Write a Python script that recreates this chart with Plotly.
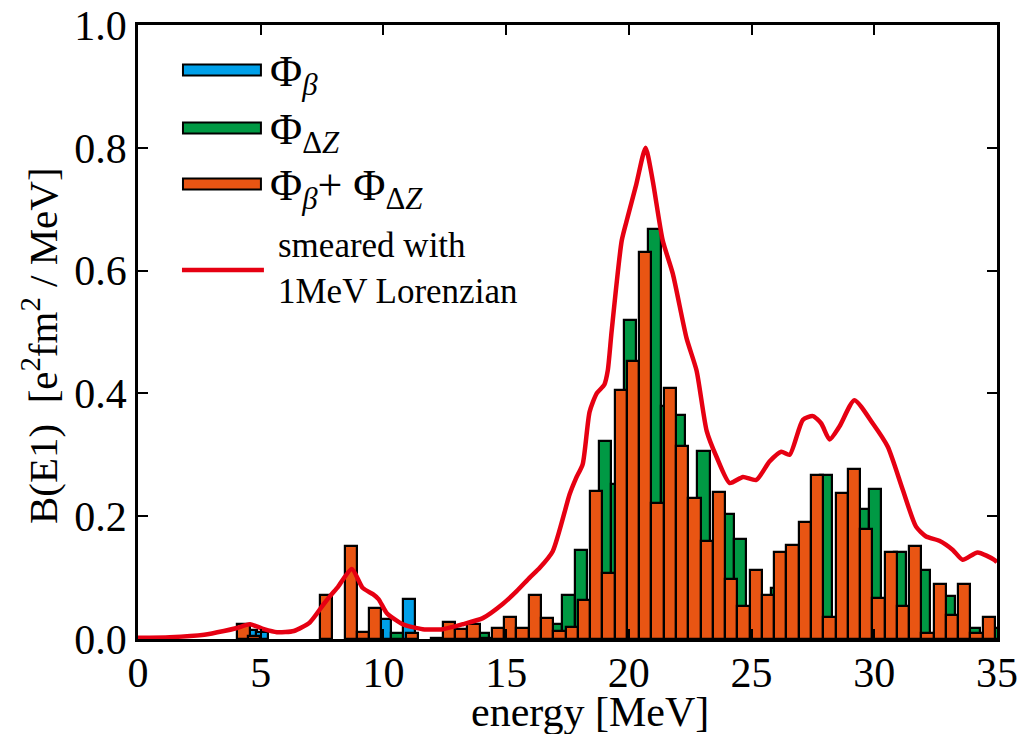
import plotly.graph_objects as go

# ---------------- data ----------------
# Phi_beta (blue)
beta_E = [4.60, 5.04, 10.04, 11.04]
beta_B = [0.015, 0.011, 0.033, 0.065]

# Phi_DeltaZ (green)
dz_E = [10.54, 14.04, 17.04, 17.54, 18.04, 19.04, 19.54, 20.04, 21.04, 21.54,
        22.04, 23.04, 24.04, 24.54, 26.04, 28.04, 29.54, 30.04, 31.04, 32.04,
        33.04, 34.04, 35.04]
dz_B = [0.009, 0.010, 0.025, 0.072, 0.145, 0.323, 0.253, 0.520, 0.667, 0.380,
        0.365, 0.306, 0.204, 0.163, 0.083, 0.267, 0.212, 0.245, 0.141, 0.112,
        0.070, 0.018, 0.018]

# Phi_beta + Phi_DeltaZ (orange)
tot_E = [4.30, 4.72, 7.67, 8.67, 9.17, 9.67, 11.17, 12.17, 12.67, 13.17,
         13.67, 14.17, 14.67, 15.17, 15.67, 16.17, 16.67, 17.17, 17.67, 18.17,
         18.67, 19.17, 19.67, 20.17, 20.67, 21.17, 21.67, 22.17, 22.67, 23.17,
         23.67, 24.17, 24.67, 25.17, 25.67, 26.17, 26.67, 27.17, 27.67, 28.17,
         28.67, 29.17, 29.67, 30.17, 30.67, 31.17, 31.67, 32.17, 32.67, 33.17,
         33.67, 34.17, 34.67]
tot_B = [0.025, 0.005, 0.072, 0.152, 0.011, 0.051, 0.010, 0.002, 0.027, 0.016,
         0.025, 0.002, 0.018, 0.036, 0.018, 0.072, 0.035, 0.013, 0.020, 0.064,
         0.241, 0.107, 0.405, 0.452, 0.630, 0.221, 0.409, 0.315, 0.230, 0.159,
         0.239, 0.097, 0.054, 0.113, 0.072, 0.141, 0.153, 0.191, 0.267, 0.036,
         0.238, 0.277, 0.179, 0.066, 0.142, 0.054, 0.152, 0.009, 0.089, 0.039,
         0.089, 0.010, 0.036]

# smeared curve (1 MeV Lorentzian)
sm_E = [0, 1.3, 2.7, 3.5, 4.03, 4.56, 5.13, 5.66, 6.35, 7.0, 7.57, 7.85, 8.15,
        8.71, 9.16, 9.57, 9.8, 10.14, 10.79, 11.6, 12.42, 13.23, 14.05, 14.86,
        15.43, 15.96, 16.37, 16.9, 17.59, 17.85, 18.12, 18.4, 18.69, 19.0,
        19.14, 19.3, 19.71, 19.95, 20.3, 20.68, 20.97, 21.38, 21.79, 22.35,
        22.76, 23.17, 23.58, 24.11, 24.65, 25.19, 25.73, 26.21, 26.55, 27.09,
        27.5, 27.84, 28.18, 28.58, 29.19, 29.94, 30.55, 31.16, 31.7, 32.11,
        32.65, 33.2, 33.6, 34.21, 34.89, 35.0]
sm_B = [0.002, 0.003, 0.007, 0.013, 0.018, 0.024, 0.016, 0.011, 0.013, 0.027,
        0.057, 0.071, 0.085, 0.114, 0.083, 0.073, 0.065, 0.042, 0.024, 0.016,
        0.016, 0.024, 0.034, 0.057, 0.078, 0.100, 0.116, 0.143, 0.236, 0.262,
        0.285, 0.370, 0.400, 0.414, 0.437, 0.502, 0.649, 0.687, 0.740, 0.800,
        0.747, 0.649, 0.595, 0.490, 0.437, 0.339, 0.296, 0.254, 0.264, 0.259,
        0.289, 0.305, 0.300, 0.357, 0.363, 0.351, 0.325, 0.346, 0.389, 0.351,
        0.313, 0.243, 0.183, 0.167, 0.160, 0.145, 0.129, 0.141, 0.129, 0.125]

x_ticks = [0, 5, 10, 15, 20, 25, 30, 35]
y_ticks = [0.0, 0.2, 0.4, 0.6, 0.8, 1.0]

# ---------------- styling ----------------
BLUE = "#00a0e9"
GREEN = "#009944"
ORANGE = "#e95513"
RED = "#e60012"
FONT = "Liberation Serif"

W, H = 1027, 734
L, R, T, B = 138, 29.5, 25, 95
PW, PH = W - L - R, H - T - B


def px(x):
    """figure pixel x -> paper coordinate"""
    return (x - L) / PW


def py(y):
    """figure pixel y -> paper coordinate"""
    return (H - B - y) / PH


fig = go.Figure()
bar_line = dict(color="black", width=2.2)
fig.add_trace(go.Bar(x=beta_E, y=beta_B, width=0.5, marker=dict(color=BLUE, line=bar_line),
                     showlegend=False, cliponaxis=False))
fig.add_trace(go.Bar(x=dz_E, y=dz_B, width=0.5, marker=dict(color=GREEN, line=bar_line),
                     showlegend=False, cliponaxis=False))
fig.add_trace(go.Bar(x=tot_E, y=tot_B, width=0.5, marker=dict(color=ORANGE, line=bar_line),
                     showlegend=False, cliponaxis=False))
fig.add_trace(go.Scatter(x=sm_E, y=sm_B, mode="lines",
                         line=dict(color=RED, width=4.5, shape="spline", smoothing=0.6),
                         showlegend=False))

axis_common = dict(showline=True, linecolor="black", linewidth=2.5, mirror="ticks",
                   ticks="inside", ticklen=10, tickwidth=2, tickcolor="black",
                   showgrid=False, zeroline=False, automargin=False,
                   tickfont=dict(family=FONT, size=42, color="black"))
fig.update_xaxes(range=[0, 35], tickvals=x_ticks, ticklabelstandoff=-5, **axis_common)
fig.update_yaxes(range=[0, 1.0], tickvals=y_ticks, tickformat=".1f", **axis_common)

# custom legend
shapes = []
annotations = []
legend_rows = [(BLUE, 70, "Φ<sub><i>β</i></sub>"),
               (GREEN, 128, "Φ<sub>Δ<i>Z</i></sub>"),
               (ORANGE, 184, "Φ<sub><i>β</i></sub>+ Φ<sub>Δ<i>Z</i></sub>")]
for col, yc, txt in legend_rows:
    shapes.append(dict(type="rect", xref="paper", yref="paper",
                       x0=px(183), x1=px(261), y0=py(yc + 5.5), y1=py(yc - 5.5),
                       fillcolor=col, line=dict(color="black", width=2)))
    annotations.append(dict(xref="paper", yref="paper", x=px(268), y=py(yc + 4),
                            xanchor="left", yanchor="middle", showarrow=False, text=txt,
                            font=dict(family=FONT, size=44, color="black")))
shapes.append(dict(type="line", xref="paper", yref="paper",
                   x0=px(182), x1=px(264), y0=py(270), y1=py(270),
                   line=dict(color=RED, width=4.5)))
annotations.append(dict(xref="paper", yref="paper", x=px(276), y=py(268),
                        xanchor="left", yanchor="middle", showarrow=False, align="left",
                        text="smeared with<br>1MeV Lorenzian",
                        font=dict(family=FONT, size=35, color="black")))
# axis titles
annotations.append(dict(xref="paper", yref="paper", x=px(590), y=py(712),
                        xanchor="center", yanchor="middle", showarrow=False,
                        text="energy [MeV]", font=dict(family=FONT, size=42, color="black")))
annotations.append(dict(xref="paper", yref="paper", x=px(40), y=py(346),
                        xanchor="center", yanchor="middle", showarrow=False, textangle=-90,
                        text="B(E1)  [e<sup>2</sup>fm<sup>2</sup> / MeV]",
                        font=dict(family=FONT, size=41, color="black")))

fig.update_layout(width=W, height=H, margin=dict(l=L, r=R, t=T, b=B, pad=0, autoexpand=False),
                  paper_bgcolor="white", plot_bgcolor="white", barmode="overlay",
                  bargap=0, shapes=shapes, annotations=annotations, showlegend=False)

fig.write_html("out.html", config={"displayModeBar": False},
               post_script="document.body.style.margin='0';document.body.style.overflow='hidden';")
